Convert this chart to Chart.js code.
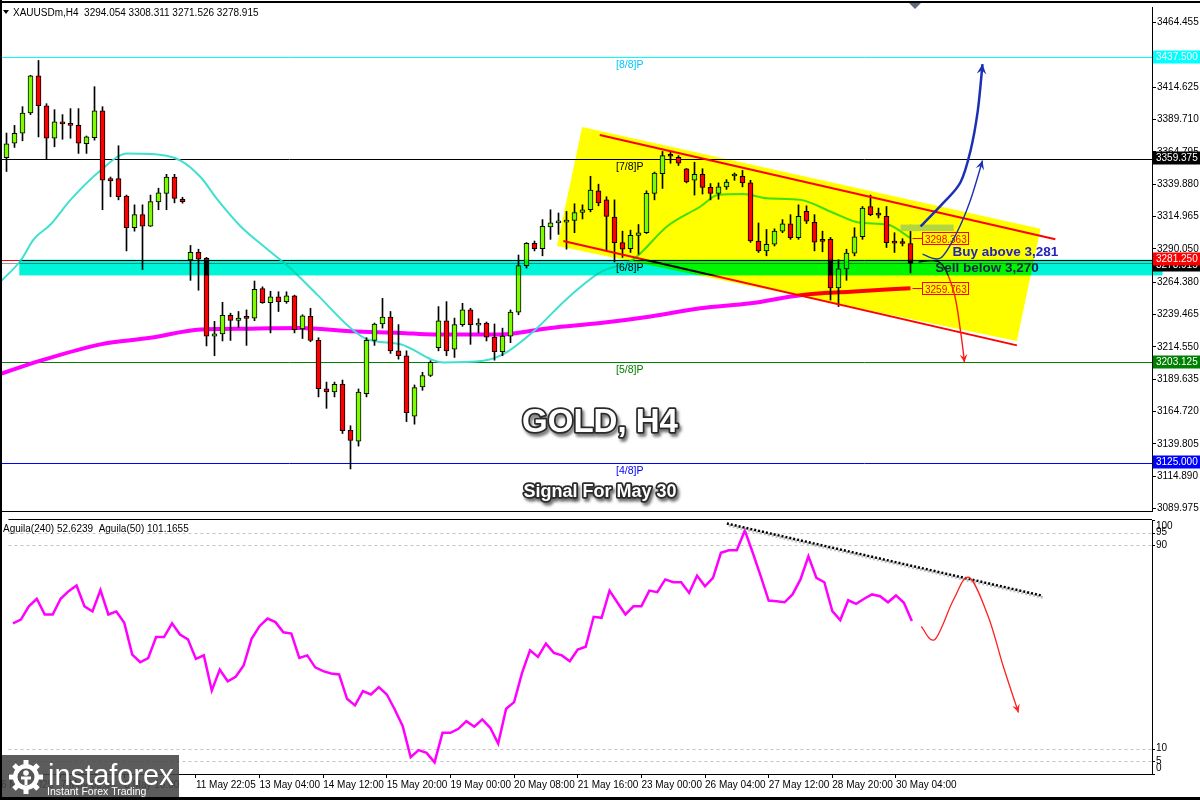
<!DOCTYPE html>
<html>
<head>
<meta charset="utf-8">
<title>XAUUSD H4</title>
<script src="https://cdn.jsdelivr.net/npm/chart.js@4.4.1/dist/chart.umd.min.js"></script>
<style>
  body { margin: 0; background: #fff; }
  #wrap { position: relative; width: 1200px; height: 800px; overflow: hidden; }
  canvas { position: absolute; left: 0; }
  #main { top: 0; }
  #ind { top: 518px; }
</style>
</head>
<body>
<div id="wrap">
  <canvas id="main" width="1200" height="518"></canvas>
  <canvas id="ind" width="1200" height="282"></canvas>
</div>
<script>
// ---- candles (H4 bars) ----
const opens = [3360.4,3371.5,3379.1,3394.7,3423.3,3400.3,3375.3,3387.9,3386.7,3385.2,
  3371.2,3375.8,3396.5,3344.2,3344.2,3330.8,3306.3,3316.4,3307.5,3326.2,
  3332.8,3345.4,3328.3,3281.5,3287.3,3282.8,3222.8,3224.6,3238.8,3235.0,
  3236.7,3236.7,3259.5,3248.6,3253.2,3249.4,3253.9,3228.4,3238.0,3219.5,
  3182.3,3179.8,3185.7,3150.3,3141.9,3178.5,3219.5,3232.2,3237.5,3211.5,
  3207.7,3161.1,3183.6,3192.5,3214.0,3234.7,3212.7,3231.7,3243.0,3231.2,
  3232.9,3222.0,3210.9,3222.8,3241.3,3277.2,3294.4,3290.3,3307.0,3310.1,
  3310.6,3312.0,3318.1,3320.2,3334.8,3327.8,3314.6,3294.9,3290.3,3300.4,
  3302.5,3332.8,3348.0,3361.9,3360.6,3351.8,3342.9,3347.5,3337.4,3332.8,
  3337.8,3346.2,3346.0,3340.9,3296.1,3288.5,3293.6,3303.7,3309.3,3298.7,
  3318.9,3310.5,3297.4,3297.4,3260.0,3274.7,3286.8,3299.4,3322.7,3316.4,
  3315.1,3294.9,3294.5,3294.054];
const highs = [3379.3,3385.2,3399.6,3423.8,3435.2,3401.9,3397.3,3393.5,3398.1,3398.1,
  3377.0,3415.0,3399.6,3345.4,3369.5,3331.5,3324.0,3324.0,3331.5,3336.8,
  3347.5,3347.5,3329.8,3292.7,3289.8,3283.5,3234.2,3248.9,3240.5,3241.8,
  3243.0,3265.3,3260.8,3257.4,3257.0,3257.0,3254.4,3239.3,3244.3,3221.6,
  3187.4,3187.4,3189.0,3153.8,3182.1,3221.6,3232.9,3251.9,3241.8,3231.7,
  3211.5,3185.2,3195.0,3203.9,3245.6,3249.4,3236.7,3248.1,3244.3,3236.2,
  3233.7,3232.2,3229.0,3243.0,3285.3,3294.9,3296.1,3312.6,3320.2,3317.7,
  3318.9,3324.8,3324.0,3346.0,3339.9,3330.2,3327.8,3303.7,3304.5,3308.8,
  3334.8,3349.2,3365.1,3365.1,3361.9,3352.0,3356.8,3351.8,3340.4,3340.9,
  3343.4,3348.5,3350.5,3342.9,3310.0,3305.0,3305.5,3312.6,3316.4,3324.0,
  3323.2,3316.4,3303.7,3298.9,3281.7,3289.8,3306.3,3322.7,3331.5,3321.5,
  3322.7,3302.5,3297.9,3308.311];
const lows = [3349.7,3368.2,3373.3,3393.5,3376.3,3359.4,3368.7,3374.5,3375.3,3363.6,
  3363.6,3373.8,3320.2,3330.2,3327.8,3288.5,3303.7,3274.1,3307.3,3320.2,
  3320.2,3325.5,3325.3,3265.8,3258.2,3215.3,3207.7,3219.1,3219.5,3229.7,
  3215.7,3234.7,3248.1,3225.3,3241.8,3248.1,3225.3,3221.0,3218.5,3176.0,
  3167.2,3176.0,3147.8,3120.5,3138.1,3176.0,3215.7,3229.0,3209.5,3205.1,
  3157.0,3155.0,3181.1,3191.7,3211.5,3207.7,3206.4,3230.4,3216.5,3225.3,
  3219.1,3204.3,3207.7,3217.8,3239.3,3275.2,3288.5,3284.7,3297.4,3301.2,
  3289.8,3302.5,3313.1,3318.6,3323.2,3288.5,3280.0,3283.5,3287.3,3286.0,
  3301.9,3327.8,3336.6,3356.0,3354.3,3340.9,3331.5,3332.3,3327.8,3328.3,
  3335.9,3342.9,3337.8,3295.1,3287.3,3284.7,3292.3,3302.5,3297.4,3297.4,
  3309.6,3288.5,3287.8,3250.6,3245.6,3265.8,3284.7,3297.4,3315.6,3313.9,
  3291.1,3287.3,3292.3,3271.526];
const closes = [3371.0,3379.1,3394.7,3423.3,3400.3,3375.3,3387.9,3386.4,3385.2,3371.5,
  3376.3,3396.5,3342.9,3342.4,3330.2,3306.3,3316.4,3307.5,3326.5,3333.3,
  3345.4,3329.0,3326.5,3287.3,3282.2,3222.8,3224.6,3238.8,3235.0,3236.7,
  3236.5,3258.9,3248.6,3253.2,3249.4,3253.9,3227.8,3238.5,3219.5,3182.3,
  3179.8,3185.7,3150.0,3142.4,3179.8,3219.5,3232.2,3237.5,3211.5,3207.7,
  3163.9,3183.1,3192.5,3202.6,3234.7,3211.5,3231.7,3243.0,3231.7,3232.9,
  3222.0,3210.9,3222.8,3241.3,3277.2,3294.4,3290.3,3307.5,3310.1,3310.5,
  3311.2,3318.1,3320.2,3335.3,3325.5,3315.1,3294.9,3289.8,3300.4,3302.5,
  3332.8,3348.5,3361.9,3361.4,3356.0,3341.6,3347.5,3337.4,3332.8,3337.8,
  3341.6,3346.7,3340.9,3296.1,3288.5,3293.6,3303.7,3309.3,3298.7,3315.1,
  3311.3,3295.3,3295.8,3260.0,3274.7,3286.8,3299.4,3321.5,3316.4,3316.0,
  3294.9,3294.5,3294.2,3278.915];

// ---- moving averages (vertices: bar index, price) ----
const maFastIdx = [-0.75,1.75,3.4,5.5,8,11.75,15.1,18,21.75,24.25,26.4,29.25,32.6,35.1,38.9,43,45.1,49.25,
  54.6,59.6,62.1,65.9,70.1,74.25,78.4,82.6,86.75,88.9,92.1,95.1,99.25,103.4,106.75,110.1,113];
const maFastVal = [3264.8,3280.9,3297.4,3308.8,3327.8,3350.5,3363.6,3363.2,3358.1,3345.4,3327.8,3307.5,3289.8,
  3277.2,3254.4,3229.1,3220.3,3216.5,3202.6,3203.9,3208.9,3226.6,3251.9,3272.1,3282.2,3307.5,3322.7,3331.5,
  3332.3,3329.0,3327.8,3317.7,3310.1,3308.8,3298.363];
const maSlowIdx = [-0.75,4.25,11.75,18,24.25,30.5,36.75,43,49.25,53.4,61.75,68,74.25,80.5,86.75,93,99.25,105.5,113];
const maSlowVal = [3193.7,3203.9,3216.5,3221.5,3227.9,3228.6,3229.1,3226.6,3225.3,3224.1,3224.1,3229.1,
  3232.9,3238.0,3244.3,3248.1,3254.4,3257.0,3259.763];

// ---- oscillator pane ----
const aguila = [59.3,60.8,66,69,62.8,62.8,69,72,74.2,66,
  64,72.4,62.8,64,59.5,47,44,45.6,53.9,53.9,
  59.3,54.9,53,45.3,46.7,32.9,41.1,36.5,38.3,42.7,
  53.2,58.2,61.2,59.8,55.8,55.3,45.7,46.7,42,40.5,
  39.6,39.2,29.6,27,32.6,31.3,34.2,31.3,25.4,18.8,
  6.6,9.4,8.3,4.6,16.2,16.2,17.8,20.8,18.6,21.5,
  18.2,12,25.7,28.3,39.8,48.7,46.1,51.3,47.7,46.7,
  44.4,49,50.1,61.9,61.5,72.2,67.4,62.8,66,66,
  72.2,71.6,76.6,75.5,75.5,71.3,78.1,73.9,77.2,87.1,
  88.1,88.1,95.9,87.1,77.9,68.3,68,67.6,70.7,76.6,
  85.7,77.2,75.5,64.1,60.6,68.4,67,69,70.7,70,
  67.6,70.3,67.4,60.2];
const aguilaTicks = [100, 95, 90, 10, 5, 0];
const aguilaDashed = [95, 90, 10, 5];

// ---- axes ----
const priceTicks = [3464.455,3414.625,3389.710,3364.795,3339.880,3314.965,3290.050,3264.380,
  3239.465,3214.550,3189.635,3164.720,3139.805,3114.890,3089.975];
const timeLabels = ['6 May 2025','7 May 08:00','8 May 16:00','11 May 22:05','13 May 04:00','14 May 12:00',
  '15 May 20:00','19 May 00:00','20 May 08:00','21 May 16:00','23 May 00:00','26 May 04:00',
  '27 May 12:00','28 May 20:00','30 May 04:00'];
const timeLabelIdx = [-1.5,6,14,23,31,39,47,55,63,71,79,87,95,103,111];

// ---- levels and drawn objects ----
const levelValues = [3437.5, 3359.375, 3281.25, 3203.125, 3125];
const levelNames = ['[8/8]P', '[7/8]P', '[6/8]P', '[5/8]P', '[4/8]P'];
const bidPrice = 3278.915;
const axisTagValues = [3437.5, 3359.375, 3278.915, 3281.25, 3203.125, 3125];
const zonePrices = [3269.6, 3281.7];
const zoneIdx = [1.6, 144.5];
const boxCorners = [[71.96, 3383.9], [129.25, 3305.5], [126.3, 3219.1], [68.8, 3292.3]];
const channelTop = [[74.16, 3377.8], [131.1, 3297.4]];
const channelBottom = [[69.6, 3296.1], [126.3, 3215.7]];
const buyPathBig = [[114.25, 3307.3], [117.1, 3325.5], [119.25, 3341.4], [120.5, 3365.7], [121.4, 3396.0], [122, 3432.4]];
const buyPathSmall = [[114.5, 3286.0], [116.75, 3283.0], [118.8, 3302.7], [120.5, 3327.7], [122, 3358.1]];
const sellPath = [[114, 3280.0], [116.75, 3279.2], [118.4, 3257.2], [119.25, 3226.9], [119.75, 3202.6]];
const oscTrend = [[89.75, 98.6], [129.25, 70.3]];
const oscPath = [[114.2, 58.1], [115.9, 53.0], [118.25, 68.7], [120.2, 77.4], [122.6, 62.0], [124.5, 42.3], [126.4, 24.2]];

// ---- styles ----
const SANS = "'Liberation Sans', Arial, sans-serif";
const levelColors = ['#00FFFF', '#000000', '#FF0000', '#008000', '#0000FF'];
const levelTextColors = ['#00C8FF', '#000000', '#FF0000', '#008000', '#0000FF'];
const axisTagBg = ['#00FFFF', '#000000', '#000000', '#FF0000', '#008000', '#0000FF'];
const axisTagShift = [0, -1, 2, -1, 0, -1];

Chart.defaults.font.family = SANS;
Chart.defaults.font.size = 10;
Chart.defaults.color = '#000';

const idx = opens.map((_, i) => i);
const wickData = idx.map(i => ({ x: i, y: [lows[i], highs[i]] }));
const bodyData = idx.map(i => ({ x: i, y: [opens[i], closes[i]] }));
const bodyColors = idx.map(i => closes[i] >= opens[i] ? '#7CFC00' : '#FF0000');
const maFast = maFastIdx.map((v, k) => ({ x: v, y: maFastVal[k] }));
const maSlow = maSlowIdx.map((v, k) => ({ x: v, y: maSlowVal[k] }));

function hLine(ctx, y, x0, x1, color) {
  ctx.strokeStyle = color;
  ctx.lineWidth = 1;
  ctx.beginPath();
  ctx.moveTo(x0, Math.round(y) + 0.5);
  ctx.lineTo(x1, Math.round(y) + 0.5);
  ctx.stroke();
}

function smoothPath(ctx, pts) {
  ctx.moveTo(pts[0][0], pts[0][1]);
  for (let k = 0; k < pts.length - 1; k++) {
    const p0 = pts[k - 1] || pts[k], p1 = pts[k], p2 = pts[k + 1], p3 = pts[k + 2] || p2;
    ctx.bezierCurveTo(p1[0] + (p2[0] - p0[0]) / 6, p1[1] + (p2[1] - p0[1]) / 6,
      p2[0] - (p3[0] - p1[0]) / 6, p2[1] - (p3[1] - p1[1]) / 6, p2[0], p2[1]);
  }
}

function arrowHead(ctx, from, to, len, color) {
  const ang = Math.atan2(to[1] - from[1], to[0] - from[0]);
  ctx.fillStyle = color;
  ctx.beginPath();
  ctx.moveTo(to[0], to[1]);
  ctx.lineTo(to[0] - len * Math.cos(ang - 0.45), to[1] - len * Math.sin(ang - 0.45));
  ctx.lineTo(to[0] - len * 0.55 * Math.cos(ang), to[1] - len * 0.55 * Math.sin(ang));
  ctx.lineTo(to[0] - len * Math.cos(ang + 0.45), to[1] - len * Math.sin(ang + 0.45));
  ctx.closePath();
  ctx.fill();
}

function curvedArrow(ctx, pts, color, width, head) {
  ctx.strokeStyle = color;
  ctx.lineWidth = width;
  ctx.beginPath();
  smoothPath(ctx, pts);
  ctx.stroke();
  arrowHead(ctx, pts[pts.length - 2], pts[pts.length - 1], head, color);
}

function outlinedText(ctx, text, cx, by, size) {
  ctx.save();
  ctx.font = 'bold ' + size + 'px ' + SANS;
  ctx.textAlign = 'center';
  ctx.lineJoin = 'round';
  ctx.shadowColor = 'rgba(0,0,0,0.55)';
  ctx.shadowOffsetX = 2;
  ctx.shadowOffsetY = 3;
  ctx.shadowBlur = 3;
  ctx.strokeStyle = '#2a2a2a';
  ctx.lineWidth = 3.5;
  ctx.strokeText(text, cx, by);
  ctx.shadowColor = 'transparent';
  ctx.fillStyle = '#fff';
  ctx.fillText(text, cx, by);
  ctx.restore();
}

const whiteBg = {
  id: 'whiteBg',
  beforeDraw(chart) {
    const { ctx, width, height } = chart;
    ctx.save();
    ctx.fillStyle = '#fff';
    ctx.fillRect(0, 0, width, height);
    ctx.restore();
  }
};

const mainOverlay = {
  id: 'mainOverlay',
  beforeDatasetsDraw(chart) {
    const { ctx, chartArea: a, scales: { y } } = chart;
    ctx.save();
    levelValues.forEach((v, k) => hLine(ctx, y.getPixelForValue(v), a.left, a.right, levelColors[k]));
    hLine(ctx, y.getPixelForValue(bidPrice), a.left, a.right, '#9A9A9A');
    ctx.restore();
  },
  afterDatasetsDraw(chart) {
    const { ctx, scales: { x, y } } = chart;
    const X = v => x.getPixelForValue(v), Y = v => y.getPixelForValue(v);
    const P = p => [X(p[0]), Y(p[1])];
    ctx.save();

    // murrey math labels
    ctx.font = '10.5px ' + SANS;
    ctx.textAlign = 'left';
    levelValues.forEach((v, k) => {
      ctx.fillStyle = levelTextColors[k];
      ctx.fillText(levelNames[k], X(76.2), Y(v) + 11);
    });

    // red channel
    ctx.strokeStyle = '#FF0000';
    ctx.lineWidth = 2;
    [channelTop, channelBottom].forEach(c => {
      ctx.beginPath();
      ctx.moveTo(...P(c[0]));
      ctx.lineTo(...P(c[1]));
      ctx.stroke();
    });

    // moving average price tags
    const last = opens.length - 1;
    ctx.font = '10px ' + SANS;
    [maFastVal[maFastVal.length - 1], maSlowVal[maSlowVal.length - 1]].forEach(v => {
      const yy = Math.round(Y(v)) + 0.5;
      const x0 = Math.round(X(114.45)) + 0.5;
      ctx.strokeStyle = '#FF0000';
      ctx.lineWidth = 1;
      ctx.beginPath();
      ctx.moveTo(X(last) + 2, yy);
      ctx.lineTo(x0, yy);
      ctx.stroke();
      ctx.fillStyle = '#fff';
      ctx.fillRect(x0, yy - 6, 46, 12);
      ctx.strokeRect(x0, yy - 6, 46, 12);
      ctx.fillStyle = '#FF0000';
      ctx.fillText(v.toFixed(3), x0 + 2.5, yy + 4);
    });

    // sell scenario arrow
    curvedArrow(ctx, sellPath.map(P), '#FF1A1A', 1.4, 9);

    // zone and channel box, blended like the terminal does
    ctx.globalCompositeOperation = 'multiply';
    ctx.fillStyle = '#00F5D8';
    ctx.fillRect(X(zoneIdx[0]), Y(zonePrices[1]), X(zoneIdx[1]) - X(zoneIdx[0]), Y(zonePrices[0]) - Y(zonePrices[1]));
    ctx.fillStyle = '#FFFF00';
    ctx.beginPath();
    boxCorners.forEach((c, k) => k ? ctx.lineTo(...P(c)) : ctx.moveTo(...P(c)));
    ctx.closePath();
    ctx.fill();
    ctx.globalCompositeOperation = 'source-over';

    // small entry marker
    ctx.fillStyle = '#B2D543';
    ctx.fillRect(X(111.75), Y(3308.8), X(118.4) - X(111.75), Y(3303.7) - Y(3308.8));

    // buy scenario arrows
    curvedArrow(ctx, buyPathBig.map(P), '#1C30B4', 2.5, 11);
    curvedArrow(ctx, buyPathSmall.map(P), '#1C30B4', 1.4, 10);

    ctx.font = 'bold 13.5px ' + SANS;
    ctx.fillStyle = '#2323C0';
    ctx.fillText('Buy above 3,281', X(118.25), Y(3284.5));
    ctx.fillStyle = '#17264F';
    ctx.fillText('Sell below 3,270', X(116.1), Y(3272.4));
    ctx.restore();
  },
  afterDraw(chart) {
    const { ctx, chartArea: a, scales: { y }, width } = chart;
    ctx.save();
    // price tags on the axis
    ctx.font = '10px ' + SANS;
    ctx.textAlign = 'left';
    ctx.textBaseline = 'middle';
    axisTagValues.forEach((v, k) => {
      const yy = Math.round(y.getPixelForValue(v)) + axisTagShift[k];
      ctx.fillStyle = axisTagBg[k];
      ctx.fillRect(a.right + 1, yy - 6.5, 47, 13);
      ctx.fillStyle = '#fff';
      ctx.fillText(v.toFixed(3), a.right + 4, yy + 0.5);
    });
    // frame
    ctx.fillStyle = '#000';
    ctx.fillRect(0, 1, width, 2);
    ctx.fillRect(0, 0, 2, chart.height);
    ctx.fillRect(a.left, Math.round(a.bottom), a.right - a.left + 1, 1);
    // header
    ctx.textBaseline = 'alphabetic';
    ctx.fillText('XAUUSDm,H4  3294.054 3308.311 3271.526 3278.915', 13, 16);
    ctx.beginPath();
    ctx.moveTo(3, 10); ctx.lineTo(9, 10); ctx.lineTo(6, 14); ctx.closePath();
    ctx.fill();
    // chart shift marker
    ctx.fillStyle = '#5F6E7E';
    ctx.beginPath();
    ctx.moveTo(909, 3); ctx.lineTo(921, 3); ctx.lineTo(915, 9); ctx.closePath();
    ctx.fill();
    ctx.restore();
    outlinedText(ctx, 'GOLD, H4', 600, 432, 33);
    outlinedText(ctx, 'Signal For May 30', 600, 497, 18);
  }
};

new Chart(document.getElementById('main'), {
  type: 'bar',
  data: {
    datasets: [
      { type: 'bar', data: bodyData, backgroundColor: bodyColors, borderColor: '#000', borderWidth: 1,
        borderSkipped: false, barThickness: 5, minBarLength: 2, grouped: false, order: 1 },
      { type: 'bar', data: wickData, backgroundColor: '#000', borderWidth: 0, barThickness: 1,
        grouped: false, order: 2 },
      { type: 'line', data: maFast, borderColor: '#40E0D0', borderWidth: 2, pointRadius: 0,
        cubicInterpolationMode: 'monotone', order: 3 },
      { type: 'line', data: maSlow, borderColor: '#FF00FF', borderWidth: 4, pointRadius: 0,
        cubicInterpolationMode: 'monotone', order: 4 }
    ]
  },
  options: {
    responsive: false,
    animation: false,
    devicePixelRatio: 1,
    layout: { padding: { top: 4, left: 2, right: 0, bottom: 2 } },
    plugins: { legend: { display: false }, tooltip: { enabled: false } },
    scales: {
      x: { type: 'linear', display: false, min: -0.5625, max: 143.1875, offset: false },
      y: {
        position: 'right', min: 3088.1, max: 3476.4,
        afterFit(s) { s.width = 48; },
        afterBuildTicks(s) { s.ticks = priceTicks.map(v => ({ value: v })); },
        ticks: { autoSkip: false, padding: 1, callback: v => v.toFixed(3) },
        grid: { drawOnChartArea: false, tickLength: 4, color: '#000' },
        border: { color: '#000' }
      }
    }
  },
  plugins: [whiteBg, mainOverlay]
});

const indOverlay = {
  id: 'indOverlay',
  beforeDatasetsDraw(chart) {
    const { ctx, chartArea: a, scales: { y } } = chart;
    ctx.save();
    ctx.strokeStyle = '#C4C4C4';
    ctx.setLineDash([3, 3]);
    aguilaDashed.forEach(v => {
      const yy = Math.round(y.getPixelForValue(v)) + 0.5;
      ctx.beginPath(); ctx.moveTo(a.left, yy); ctx.lineTo(a.right, yy); ctx.stroke();
    });
    ctx.restore();
  },
  afterDatasetsDraw(chart) {
    const { ctx, scales: { x, y } } = chart;
    const P = p => [x.getPixelForValue(p[0]), y.getPixelForValue(p[1])];
    ctx.save();
    const t0 = P(oscTrend[0]), t1 = P(oscTrend[1]);
    ctx.setLineDash([2, 2]);
    ctx.lineWidth = 3;
    ctx.strokeStyle = 'rgba(150,150,150,0.6)';
    ctx.beginPath(); ctx.moveTo(t0[0] + 2, t0[1] + 2); ctx.lineTo(t1[0] + 2, t1[1] + 2); ctx.stroke();
    ctx.strokeStyle = '#000';
    ctx.lineWidth = 2.5;
    ctx.beginPath(); ctx.moveTo(...t0); ctx.lineTo(...t1); ctx.stroke();
    ctx.setLineDash([]);
    curvedArrow(ctx, oscPath.map(P), '#FF2020', 1.3, 9);
    ctx.restore();
  },
  afterDraw(chart) {
    const { ctx, chartArea: a, scales: { y }, width, height } = chart;
    ctx.save();
    ctx.font = '10px ' + SANS;
    ctx.fillStyle = '#000';
    ctx.textBaseline = 'middle';
    aguilaTicks.forEach(v => {
      const py = y.getPixelForValue(v);
      const ly = Math.min(Math.max(py, a.top + 6), a.bottom - 6);
      ctx.fillRect(a.right, Math.round(py), 3, 1);
      ctx.fillText(String(v), a.right + 4, ly);
    });
    ctx.textBaseline = 'alphabetic';
    ctx.fillText('Aguila(240) 52.6239  Aguila(50) 101.1655', 3, 14);
    // frame
    ctx.fillRect(a.left, 1, a.right - a.left, 1);
    ctx.fillRect(0, 0, 2, height);
    ctx.fillRect(0, height - 3, width, 3);
    // logo
    ctx.fillStyle = 'rgba(70,70,70,0.88)';
    ctx.fillRect(2, 237, 177, 42);
    const cx = 26, cy = 259;
    ctx.fillStyle = '#fff';
    for (let k = 0; k < 8; k++) {
      ctx.save();
      ctx.translate(cx, cy);
      ctx.rotate(k * Math.PI / 4);
      ctx.fillRect(-2.5, -17, 5, 6);
      ctx.restore();
    }
    ctx.beginPath(); ctx.arc(cx, cy, 13, 0, Math.PI * 2); ctx.fill();
    ctx.fillStyle = '#555';
    ctx.beginPath(); ctx.arc(cx, cy, 8.5, 0, Math.PI * 2); ctx.fill();
    ctx.fillStyle = '#fff';
    ctx.beginPath(); ctx.arc(cx, cy - 4, 2.8, 0, Math.PI * 2); ctx.fill();
    ctx.fillRect(cx - 5, cy - 0.5, 10, 3);
    ctx.fillRect(cx - 1.5, cy, 3, 8);
    ctx.font = '29px ' + SANS;
    ctx.fillText('instaforex', 48, 267);
    ctx.font = '10.5px ' + SANS;
    ctx.fillText('Instant Forex Trading', 47, 277);
    ctx.restore();
  }
};

new Chart(document.getElementById('ind'), {
  type: 'line',
  data: {
    datasets: [{ data: aguila.map((v, i) => ({ x: i, y: v })), borderColor: '#FF00FF', borderWidth: 2.5,
      pointRadius: 0, tension: 0 }]
  },
  options: {
    responsive: false,
    animation: false,
    devicePixelRatio: 1,
    layout: { padding: { top: 2, left: 2, right: 0, bottom: 2 } },
    plugins: { legend: { display: false }, tooltip: { enabled: false } },
    scales: {
      x: {
        type: 'linear', min: -0.5625, max: 143.1875, offset: false,
        afterFit(s) { s.height = 24; },
        afterBuildTicks(s) { s.ticks = timeLabelIdx.map(v => ({ value: v })); },
        ticks: { autoSkip: false, maxRotation: 0, align: 'start', padding: 1,
          callback: (v, k) => timeLabels[k] },
        grid: { drawOnChartArea: false, tickLength: 4, color: '#000' },
        border: { color: '#000' }
      },
      y: {
        position: 'right', min: 0, max: 100,
        afterFit(s) { s.width = 48; },
        ticks: { display: false },
        grid: { display: false },
        border: { color: '#000' }
      }
    }
  },
  plugins: [whiteBg, indOverlay]
});
</script>
</body>
</html>
